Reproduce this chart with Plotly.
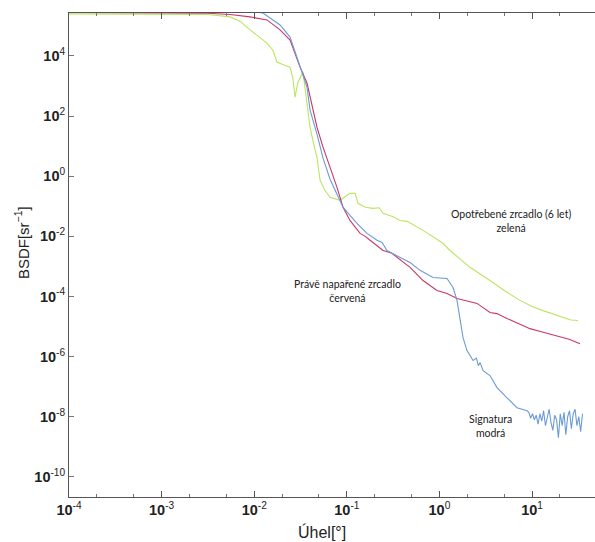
import numpy as np
import plotly.graph_objects as go

# BSDF measurements, stored as log10(angle [deg]) and log10(BSDF [1/sr])
green_angle_log10 = [-4.0, -3.0, -2.5, -2.26, -2.15, -2.045, -1.95, -1.862, -1.80, -1.754, -1.68,
                     -1.613, -1.585, -1.559, -1.53, -1.473, -1.45, -1.419, -1.397, -1.36, -1.322,
                     -1.289, -1.24, -1.181, -1.073, -0.966, -0.911, -0.879, -0.80, -0.717, -0.65,
                     -0.609, -0.50, -0.425, -0.35, -0.177, 0.039, 0.114, 0.330, 0.546, 0.70, 0.870,
                     1.0, 1.119, 1.20, 1.335, 1.42, 1.497]
green_bsdf_log10 = [5.40, 5.40, 5.38, 5.30, 5.15, 4.87, 4.65, 4.43, 4.20, 3.80, 3.70,
                    3.63, 3.30, 2.63, 3.10, 3.47, 2.90, 2.20, 1.63, 1.10, 0.63,
                    -0.13, -0.45, -0.70, -0.80, -0.57, -0.57, -0.90, -1.03, -1.07, -1.05,
                    -1.23, -1.35, -1.47, -1.50, -1.80, -2.23, -2.47, -3.03, -3.47, -3.80, -4.13,
                    -4.33, -4.47, -4.55, -4.70, -4.78, -4.80]

red_angle_log10 = [-4.0, -2.5, -2.26, -2.045, -1.862, -1.721, -1.613, -1.505, -1.43, -1.365,
                   -1.322, -1.257, -1.181, -1.106, -1.041, -0.966, -0.857, -0.80, -0.749, -0.609,
                   -0.52, -0.458, -0.317, -0.177, -0.026, 0.082, 0.19, 0.30, 0.406, 0.546, 0.62,
                   0.73, 0.85, 0.978, 1.10, 1.27, 1.40, 1.518]
red_bsdf_log10 = [5.45, 5.42, 5.38, 5.30, 5.20, 4.87, 4.53, 3.63, 3.10, 2.20,
                  1.63, 0.97, 0.30, -0.37, -1.03, -1.47, -1.90, -2.00, -2.13, -2.47,
                  -2.55, -2.70, -3.03, -3.47, -3.80, -3.90, -4.07, -4.15, -4.23, -4.53, -4.57,
                  -4.73, -4.90, -5.07, -5.17, -5.30, -5.42, -5.57]

blue_angle_log10 = [-4.0, -2.3, -1.905, -1.721, -1.613, -1.505, -1.43, -1.397, -1.322, -1.257,
                    -1.181, -1.106, -1.041, -0.966, -0.89, -0.782, -0.674, -0.62, -0.566, -0.425,
                    -0.317, -0.209, -0.069, 0.082, 0.147, 0.19, 0.222, 0.255, 0.298, 0.363,
                    0.40, 0.42, 0.44, 0.471, 0.546, 0.622, 0.73, 0.838, 0.946,
                    0.965, 0.985, 1.005, 1.025, 1.045, 1.065, 1.085, 1.105, 1.125, 1.145,
                    1.165, 1.185, 1.205, 1.225, 1.245, 1.265, 1.285, 1.305, 1.325, 1.345,
                    1.365, 1.385, 1.405, 1.425, 1.445, 1.465, 1.485, 1.505, 1.525, 1.545]
blue_bsdf_log10 = [5.60, 5.60, 5.43, 5.03, 4.63, 3.63, 2.97, 2.20, 1.40, 0.60,
                   -0.10, -0.60, -1.03, -1.30, -1.57, -1.90, -2.13, -2.20, -2.47, -2.70,
                   -2.87, -3.13, -3.37, -3.40, -3.70, -4.13, -4.70, -5.37, -5.80, -6.13,
                   -6.05, -6.30, -6.20, -6.47, -6.63, -7.03, -7.37, -7.70, -7.80,
                   -7.85, -8.05, -7.90, -8.10, -7.95, -8.25, -7.90, -8.15, -7.80, -8.30,
                   -8.00, -7.75, -8.20, -8.45, -7.95, -8.10, -8.70, -7.90, -8.30, -7.85,
                   -8.60, -8.00, -7.80, -8.40, -7.90, -7.75, -8.30, -8.00, -8.50, -7.90]

# Axis tick exponents
x_tick_exponents = [-4, -3, -2, -1, 0, 1]
y_tick_exponents = [4, 2, 0, -2, -4, -6, -8, -10]

series = [
    (green_angle_log10, green_bsdf_log10, "#b9e65e"),
    (red_angle_log10, red_bsdf_log10, "#cc3866"),
    (blue_angle_log10, blue_bsdf_log10, "#6a9bd8"),
]

fig = go.Figure()
for ax, ay, color in series:
    fig.add_trace(go.Scatter(
        x=np.power(10.0, ax), y=np.power(10.0, ay), mode="lines",
        line=dict(color=color, width=1.1), showlegend=False, hoverinfo="skip",
    ))

label_font = dict(family="Lato, Open Sans, sans-serif", size=10.5, color="#222")
notes = [
    (0.77, -1.5, "Opotřebené zrcadlo (6 let)<br>zelená"),
    (-0.995, -3.83, "Právě napařené zrcadlo<br>červená"),
    (0.555, -8.3, "Signatura<br>modrá"),
]
for nx, ny, txt in notes:
    fig.add_annotation(x=nx, y=ny, text=txt, showarrow=False, font=label_font, align="center")

title_family = "Liberation Sans, Arial, sans-serif"
fig.add_annotation(xref="paper", yref="paper", x=-0.089, y=0.525, xanchor="center",
                   yanchor="middle", text="BSDF[sr<sup>−1</sup>]",
                   textangle=-90, showarrow=False,
                   font=dict(family=title_family, size=15, color="#222"))
fig.add_annotation(xref="paper", yref="paper", x=0.481, y=-0.072, xanchor="center",
                   yanchor="middle", text="Úhel[°]", showarrow=False,
                   font=dict(family=title_family, size=16, color="#222"))


def power_labels(exps):
    return ["<b>10</b><sup>%d</sup>" % e for e in exps]


axis_font = dict(family=title_family, size=14.5, color="#222")
fig.update_xaxes(
    type="log", range=[-4, 1.68],
    tickvals=[10.0 ** e for e in x_tick_exponents], ticktext=power_labels(x_tick_exponents),
    ticks="inside", ticklen=6, tickcolor="#555", showline=True, linecolor="#555",
    linewidth=1, mirror="ticks", showgrid=False, zeroline=False, tickfont=axis_font,
    minor=dict(ticks="inside", ticklen=3, tickcolor="#777", showgrid=False),
)
fig.update_yaxes(
    type="log", range=[-10.67, 5.43],
    tickvals=[10.0 ** e for e in y_tick_exponents], ticktext=power_labels(y_tick_exponents),
    ticks="inside", ticklen=5, tickcolor="#777", showline=True, linecolor="#555",
    linewidth=1, showgrid=False, zeroline=False, tickfont=axis_font,
)
fig.update_layout(
    width=595, height=542, margin=dict(l=69, r=0, t=13, b=45),
    paper_bgcolor="white", plot_bgcolor="white",
)
fig.write_html("out.html")
